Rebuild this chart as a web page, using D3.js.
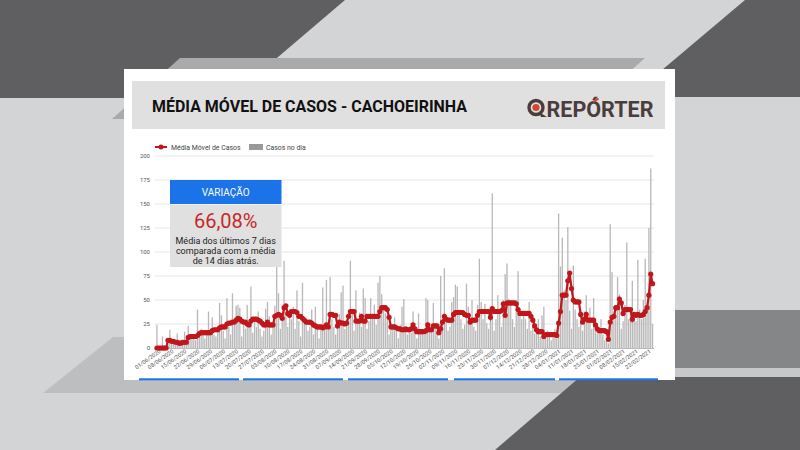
<!DOCTYPE html>
<html>
<head>
<meta charset="utf-8">
<script src="https://cdn.jsdelivr.net/npm/d3@7"></script>
<style>
body { margin: 0; background: #d3d4d6; }
svg { display: block; font-family: Roboto, "Noto Sans", sans-serif; }
</style>
</head>
<body>
<svg id="chart" width="800" height="450"></svg>
<script>
// dados (01/06/2020 a 25/02/2021)
var inicio = new Date(2020, 5, 1);

var casosNoDia = [
  24, 2, 0, 12, 3, 0, 5, 19, 6, 4,
  3, 15, 5, 2, 8, 17, 4, 23, 10, 12,
  14, 8, 40, 12, 20, 15, 10, 18, 38, 16,
  32, 14, 12, 20, 47, 34, 18, 10, 52, 22,
  14, 57, 30, 44, 45, 42, 12, 28, 20, 45,
  26, 64, 16, 30, 22, 38, 20, 12, 18, 41,
  48, 33, 14, 22, 44, 85, 57, 20, 30, 91,
  35, 22, 40, 30, 43, 20, 60, 28, 12, 68,
  25, 30, 18, 22, 40, 14, 43, 22, 10, 20,
  63, 25, 71, 20, 74, 30, 22, 14, 20, 35,
  58, 65, 20, 30, 25, 91, 40, 18, 60, 30,
  37, 22, 62, 52, 20, 28, 52, 35, 45, 24,
  68, 75, 56, 42, 36, 30, 14, 20, 22, 32,
  18, 10, 24, 43, 51, 20, 14, 22, 16, 38,
  22, 10, 36, 18, 20, 14, 52, 50, 18, 22,
  47, 24, 18, 10, 75, 20, 83, 30, 18, 22,
  48, 53, 66, 64, 40, 30, 20, 24, 67, 43,
  30, 50, 22, 18, 45, 93, 48, 30, 46, 26,
  20, 30, 161, 18, 30, 55, 40, 22, 50, 77,
  88, 51, 45, 30, 22, 50, 80, 40, 30, 36,
  30, 20, 48, 18, 24, 15, 20, 30, 12, 34,
  43, 10, 18, 14, 8, 12, 20, 10, 140, 85,
  115, 60, 50, 126, 39, 20, 86, 40, 30, 22,
  40, 18, 38, 55, 30, 42, 20, 52, 28, 15,
  20, 30, 14, 8, 10, 5, 129, 79, 30, 40,
  74, 56, 20, 28, 45, 110, 30, 40, 70, 32,
  28, 92, 40, 30, 50, 93, 40, 125, 187, 25
];

var mediaMovel = [
  0, 0, 0, 0, 0, 0, 8, 8, 7, 7,
  6, 6, 5, 5, 6, 6, 6, 11, 12, 12,
  12, 12, 13, 15, 16, 16, 16, 16, 16, 16,
  18, 19, 19, 19, 21, 22, 22, 22, 25, 26,
  26, 27, 27, 29, 31, 30, 28, 27, 27, 25,
  24, 28, 30, 30, 30, 29, 28, 26, 24, 24,
  27, 24, 24, 24, 33, 34, 35, 34, 31, 42,
  44, 36, 34, 38, 38, 38, 37, 33, 33, 31,
  29, 27, 27, 27, 26, 24, 23, 22, 22, 22,
  21, 22, 24, 22, 35, 35, 34, 34, 23, 27,
  26, 26, 25, 26, 33, 38, 38, 38, 28, 28,
  28, 33, 28, 28, 33, 33, 33, 33, 33, 33,
  33, 38, 42, 42, 42, 40, 32, 22, 22, 22,
  21, 20, 20, 19, 19, 20, 19, 19, 20, 24,
  20, 17, 17, 17, 17, 17, 18, 24, 19, 19,
  23, 23, 23, 16, 20, 27, 33, 30, 29, 29,
  29, 35, 37, 37, 37, 37, 37, 35, 34, 34,
  27, 29, 29, 29, 34, 38, 38, 38, 38, 38,
  38, 32, 41, 38, 38, 38, 38, 39, 46, 34,
  47, 47, 47, 47, 47, 46, 40, 36, 36, 36,
  36, 36, 36, 33, 29, 23, 19, 17, 17, 17,
  12, 14, 14, 14, 14, 14, 14, 13, 26, 38,
  55, 55, 55, 70, 78, 62, 50, 48, 48, 48,
  35, 27, 30, 35, 29, 29, 29, 29, 24, 20,
  18, 18, 18, 18, 17, 9, 27, 32, 33, 42,
  42, 51, 47, 36, 40, 40, 40, 40, 30, 35,
  34, 35, 34, 34, 35, 38, 42, 55, 77, 67
];

var yTicks = [0, 25, 50, 75, 100, 125, 150, 175, 200];
var titulo = "MÉDIA MÓVEL DE CASOS - CACHOEIRINHA";
var legendas = ["Média Móvel de Casos", "Casos no dia"];
var variacao = "66,08%";
var variacaoTexto = ["Média dos últimos 7 dias", "comparada com a média", "de 14 dias atrás."];

var vermelho = "#c0171c";
var azul = "#1a73e8";

var svg = d3.select("#chart");

// fundo com as faixas inclinadas
var faixas = [
  { pts: [[0, 0], [345, 0], [230, 98], [0, 98]], fill: "#5f5f61" },
  { pts: [[745, 0], [800, 0], [800, 97], [630, 97]], fill: "#5f5f61" },
  { pts: [[180, 58], [645, 58], [577, 119], [112, 119]], fill: "#a9aaac" },
  { pts: [[113, 337], [800, 337], [800, 393], [43, 393]], fill: "#bdbec0" },
  { pts: [[600, 310], [800, 310], [800, 368], [600, 368]], fill: "#858688" },
  { pts: [[600, 368], [800, 368], [800, 377], [600, 377]], fill: "#c7c8ca" },
  { pts: [[580, 377], [800, 377], [800, 450], [495, 450]], fill: "#5f5f61" }
];
svg.append("rect").attr("width", 800).attr("height", 450).attr("fill", "#d3d4d6");
svg.selectAll("polygon.faixa").data(faixas).enter().append("polygon")
  .attr("class", "faixa")
  .attr("points", function(d) { return d.pts.join(" "); })
  .attr("fill", function(d) { return d.fill; });

// cartão
svg.append("rect").attr("x", 124).attr("y", 69).attr("width", 551).attr("height", 311).attr("fill", "#fff");
svg.append("rect").attr("x", 132).attr("y", 81).attr("width", 533).attr("height", 48).attr("fill", "#e0e0e0");

svg.append("text").attr("x", 152).attr("y", 112)
  .attr("font-size", 16.5).attr("font-weight", 700).attr("fill", "#111")
  .attr("textLength", 315).attr("lengthAdjust", "spacingAndGlyphs")
  .text(titulo);

// logo
var logo = svg.append("g");
logo.append("circle").attr("cx", 536).attr("cy", 107.5).attr("r", 7).attr("fill", "none")
  .attr("stroke", "#4a3d3d").attr("stroke-width", 3.4);
logo.append("path").attr("d", "M539,112 L547,117 L541,117 Z").attr("fill", "#4a3d3d");
logo.append("circle").attr("cx", 536).attr("cy", 107.5).attr("r", 3.6).attr("fill", "#d64531");
var logoTxt = logo.append("text").attr("x", 546.5).attr("y", 116.5)
  .attr("font-size", 22).attr("font-weight", 700).attr("fill", "#4a3d3d")
  .attr("textLength", 107).attr("lengthAdjust", "spacingAndGlyphs")
  .text("REPÓRTER");
var ext = logoTxt.node().getExtentOfChar(3);
logo.append("path")
  .attr("d", "M" + (ext.x + ext.width * 0.42) + "," + (ext.y + 4.5) +
    " L" + (ext.x + ext.width * 0.78) + "," + (ext.y + 1) +
    " L" + (ext.x + ext.width * 0.86) + "," + (ext.y + 3) +
    " L" + (ext.x + ext.width * 0.5) + "," + (ext.y + 6) + " Z")
  .attr("fill", "#d64531");

// escalas
var dias = casosNoDia.map(function(v, i) { return d3.timeDay.offset(inicio, i); });
var fim = dias[dias.length - 1];
var x = d3.scaleTime()
  .domain([d3.timeHour.offset(inicio, -12), d3.timeHour.offset(fim, 12)])
  .range([156, 653.5]);
var y = d3.scaleLinear().domain([0, 200]).range([348, 156]);

// grade
svg.append("g").selectAll("line").data(yTicks.slice(1)).enter().append("line")
  .attr("x1", 155).attr("x2", 654)
  .attr("y1", function(d) { return y(d); }).attr("y2", function(d) { return y(d); })
  .attr("stroke", "#e6e6e6").attr("stroke-width", 1);

var yAxis = svg.append("g").attr("transform", "translate(152,0)")
  .call(d3.axisLeft(y).tickValues(yTicks).tickSize(0).tickPadding(2));
yAxis.select(".domain").remove();
yAxis.selectAll("text").attr("font-size", 6).attr("fill", "#555").attr("font-family", "Roboto, sans-serif");

// barras
var serie = dias.map(function(d, i) { return { date: d, casos: casosNoDia[i], media: mediaMovel[i] }; });
svg.append("g").selectAll("rect").data(serie).enter().append("rect")
  .attr("x", function(d) { return x(d.date) - 0.65; })
  .attr("width", 1.3)
  .attr("y", function(d) { return y(d.casos); })
  .attr("height", function(d) { return y(0) - y(d.casos); })
  .attr("fill", "#b8b8b8");

svg.append("line").attr("x1", 155).attr("x2", 654).attr("y1", 348.5).attr("y2", 348.5)
  .attr("stroke", "#bbb");

// média móvel
var linha = d3.line()
  .x(function(d) { return x(d.date); })
  .y(function(d) { return y(d.media); });
svg.append("path").datum(serie).attr("d", linha)
  .attr("fill", "none").attr("stroke", vermelho).attr("stroke-width", 2.2);
svg.append("g").selectAll("circle").data(serie).enter().append("circle")
  .attr("cx", function(d) { return x(d.date); })
  .attr("cy", function(d) { return y(d.media); })
  .attr("r", 2.6).attr("fill", vermelho);

// eixo x
var semanas = d3.timeMonday.range(inicio, d3.timeDay.offset(fim, 1));
var xAxis = svg.append("g").attr("transform", "translate(0,349)")
  .call(d3.axisBottom(x).tickValues(semanas).tickSize(0).tickPadding(2)
    .tickFormat(d3.timeFormat("%d/%m/%Y")));
xAxis.select(".domain").remove();
xAxis.selectAll("text")
  .attr("font-size", 5.6).attr("fill", "#555").attr("font-family", "Roboto, sans-serif")
  .attr("text-anchor", "end")
  .attr("transform", "rotate(-35)")
  .attr("dx", "0.2em").attr("dy", "0.5em");

// legenda
var leg = svg.append("g");
leg.append("line").attr("x1", 155).attr("x2", 167).attr("y1", 147).attr("y2", 147)
  .attr("stroke", vermelho).attr("stroke-width", 2);
leg.append("circle").attr("cx", 161).attr("cy", 147).attr("r", 2.5).attr("fill", vermelho);
leg.append("text").attr("x", 171).attr("y", 149.5).attr("font-size", 6.9).attr("fill", "#444")
  .text(legendas[0]);
leg.append("rect").attr("x", 249).attr("y", 144).attr("width", 14).attr("height", 6).attr("fill", "#999");
leg.append("text").attr("x", 266).attr("y", 149.5).attr("font-size", 6.9).attr("fill", "#444")
  .text(legendas[1]);

// caixa de variação
var caixa = svg.append("g");
caixa.append("rect").attr("x", 170).attr("y", 180).attr("width", 111.5).attr("height", 24).attr("fill", azul);
caixa.append("rect").attr("x", 170).attr("y", 205).attr("width", 111.5).attr("height", 62).attr("fill", "#e0e0e0");
caixa.append("text").attr("x", 225.7).attr("y", 195.5).attr("text-anchor", "middle")
  .attr("font-size", 10).attr("fill", "#fff").text("VARIAÇÃO");
caixa.append("text").attr("x", 225.7).attr("y", 227.5).attr("text-anchor", "middle")
  .attr("font-size", 20).attr("fill", "#c62828").text(variacao);
caixa.selectAll("text.desc").data(variacaoTexto).enter().append("text")
  .attr("class", "desc")
  .attr("x", 225.7).attr("y", function(d, i) { return 243.5 + i * 10; })
  .attr("text-anchor", "middle").attr("font-size", 9).attr("fill", "#222")
  .text(function(d) { return d; });

// faixas azuis no rodapé do cartão
var rodape = [[139, 239], [243, 343], [348, 448], [454, 555], [559, 658]];
svg.append("g").selectAll("rect").data(rodape).enter().append("rect")
  .attr("x", function(d) { return d[0]; }).attr("width", function(d) { return d[1] - d[0]; })
  .attr("y", 378.3).attr("height", 2).attr("fill", azul);
</script>
</body>
</html>
